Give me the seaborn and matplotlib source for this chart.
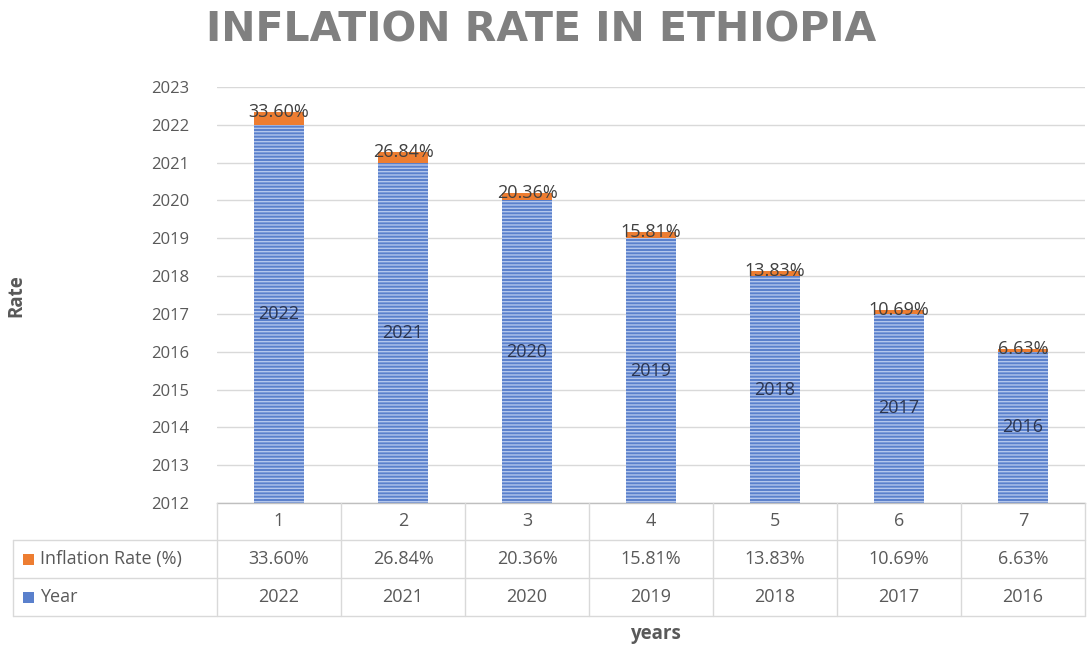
import matplotlib
matplotlib.use("Agg")
import matplotlib.pyplot as plt
from matplotlib.patches import Rectangle
from matplotlib.lines import Line2D
import seaborn as sns

# Data
categories = ["1", "2", "3", "4", "5", "6", "7"]
years = [2022, 2021, 2020, 2019, 2018, 2017, 2016]
inflation_pct = [33.60, 26.84, 20.36, 15.81, 13.83, 10.69, 6.63]
row_labels = ["Inflation Rate (%)", "Year"]
y_ticks = list(range(2012, 2024))

BLUE = "#5a80cc"
BLUE_LINES = "#b3c6ec"
ORANGE = "#ed7d31"
TEXT = "#595959"
GRID = "#d9d9d9"

sns.set_theme(style="white")
plt.rcParams["font.family"] = ["Open Sans", "DejaVu Sans"]
plt.rcParams["hatch.linewidth"] = 1.0

W, H = 1087, 650
fig = plt.figure(figsize=(W / 100, H / 100), dpi=100)

def fx(px):
    return px / W

def fy(py):
    return 1 - py / H

ax_left, ax_right, ax_top, ax_bottom = 217, 1085, 87, 503
ax = fig.add_axes([fx(ax_left), fy(ax_bottom), fx(ax_right - ax_left), fy(ax_top) - fy(ax_bottom)])

totals = [y + p / 100 for y, p in zip(years, inflation_pct)]

# Orange cap = year + rate fraction, blue year bar drawn on top
sns.barplot(x=categories, y=totals, color=ORANGE, width=0.4, saturation=1,
            linewidth=0, ax=ax, order=categories)
sns.barplot(x=categories, y=years, color=BLUE, width=0.4, saturation=1,
            hatch="-----", edgecolor=BLUE_LINES, linewidth=0, ax=ax, order=categories)

ax.set_ylim(2012, 2023)
ax.set_xlim(-0.5, 6.5)
ax.set_yticks(y_ticks)
ax.set_yticklabels([str(t) for t in y_ticks], fontsize=12, color=TEXT)
ax.tick_params(axis="y", length=0, pad=20)
ax.set_xticks([])
ax.set_xlabel("")
ax.set_ylabel("")
ax.set_axisbelow(True)
ax.yaxis.grid(True, color=GRID, linewidth=1)
for s in ["top", "right", "left"]:
    ax.spines[s].set_visible(False)
ax.spines["bottom"].set_color("#bfbfbf")
ax.spines["bottom"].set_linewidth(1)

# Value labels
for i, (yr, p, tot) in enumerate(zip(years, inflation_pct, totals)):
    ax.text(i, tot, f"{p:.2f}%", ha="center", va="center", fontsize=13, color="#404040")
    ax.text(i, (2012 + yr) / 2, str(yr), ha="center", va="center", fontsize=13, color="#2b3550")

# Title and axis titles
fig.text(0.498, fy(31), "INFLATION RATE IN ETHIOPIA", ha="center", va="center",
         fontsize=29.5, fontweight="bold", color="#808080", family="DejaVu Sans")
fig.text(fx(16), fy(296), "Rate", rotation=90, ha="center", va="center",
         fontsize=13.5, fontweight="bold", color=TEXT)
fig.text(fx(655), fy(634), "years", ha="center", va="center",
         fontsize=13.5, fontweight="bold", color=TEXT)

# Data table below the plot
row_y = [503, 540, 578, 616]
col_w = (ax_right - ax_left) / len(categories)
col_x = [ax_left + k * col_w for k in range(len(categories) + 1)]
hdr_left = 13
line_kw = dict(color=GRID, linewidth=1, transform=fig.transFigure)

for k, x in enumerate(col_x):
    fig.add_artist(Line2D([fx(x), fx(x)], [fy(row_y[0]), fy(row_y[-1])], **line_kw))
for yy in row_y[1:]:
    fig.add_artist(Line2D([fx(hdr_left), fx(ax_right)], [fy(yy), fy(yy)], **line_kw))
fig.add_artist(Line2D([fx(hdr_left), fx(hdr_left)], [fy(row_y[1]), fy(row_y[-1])], **line_kw))

def mid(a, b):
    return (a + b) / 2

for i, cat in enumerate(categories):
    cx = fx(mid(col_x[i], col_x[i + 1]))
    fig.text(cx, fy(mid(row_y[0], row_y[1])), cat, ha="center", va="center", fontsize=13, color=TEXT)
    fig.text(cx, fy(mid(row_y[1], row_y[2])), f"{inflation_pct[i]:.2f}%", ha="center", va="center",
             fontsize=13, color=TEXT)
    fig.text(cx, fy(mid(row_y[2], row_y[3])), str(years[i]), ha="center", va="center",
             fontsize=13, color=TEXT)

for r, (lab, col) in enumerate(zip(row_labels, [ORANGE, BLUE])):
    cy = mid(row_y[r + 1], row_y[r + 2])
    sq = 11
    fig.add_artist(Rectangle((fx(23), fy(cy + sq / 2)), fx(sq), fy(0) - fy(sq),
                             facecolor=col, edgecolor="none", transform=fig.transFigure))
    fig.text(fx(40), fy(cy), lab, ha="left", va="center", fontsize=13, color=TEXT)

fig.savefig("out.png", dpi=100, facecolor="white")
